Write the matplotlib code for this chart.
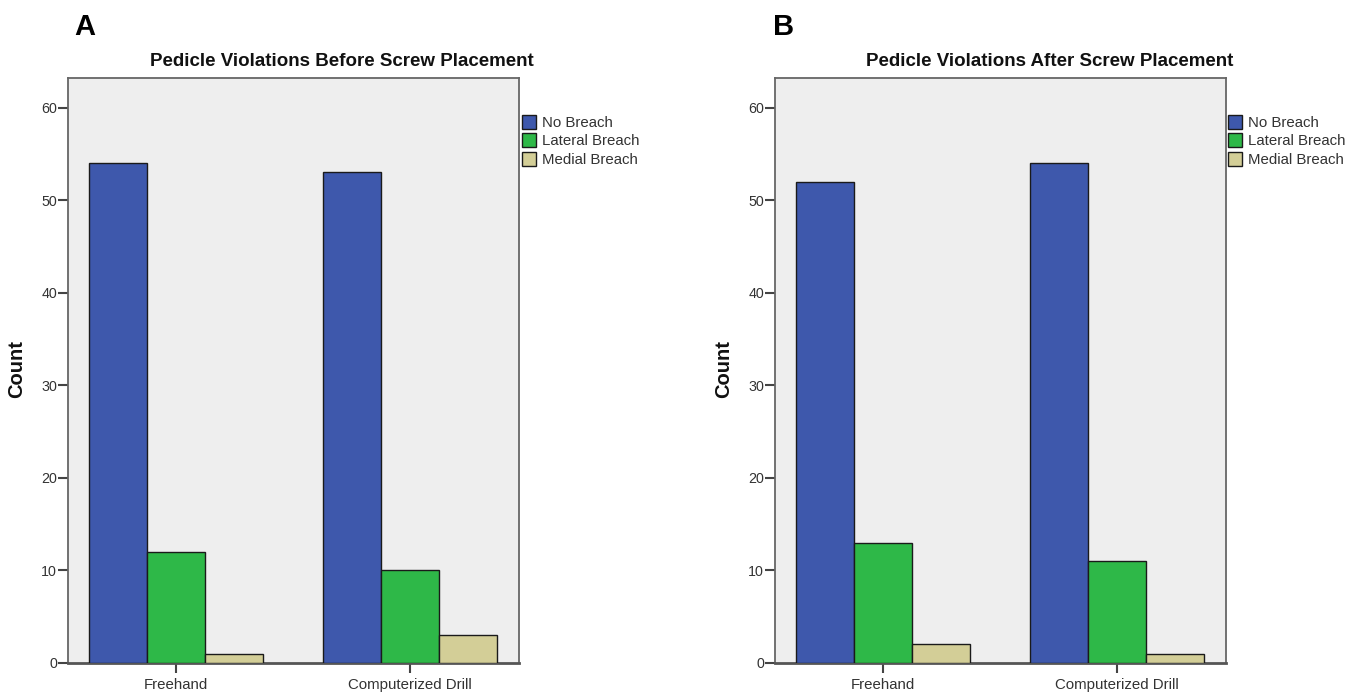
import matplotlib
matplotlib.use("Agg")
import matplotlib.pyplot as plt
import numpy as np

plt.rcParams['font.family'] = ['Liberation Sans', 'DejaVu Sans']

categories = ["Freehand", "Computerized Drill"]
series_names = ["No Breach", "Lateral Breach", "Medial Breach"]
before_values = [[54, 53], [12, 10], [1, 3]]
after_values = [[52, 54], [13, 11], [2, 1]]
titles = ["Pedicle Violations Before Screw Placement", "Pedicle Violations After Screw Placement"]
panel_labels = ["A", "B"]
colors = ["#3E58AC", "#2EB848", "#D3CE97"]
yticks = [0, 10, 20, 30, 40, 50, 60]

W, H = 1359, 694
fig = plt.figure(figsize=(W / 100, H / 100), dpi=100)

panels = [
    dict(left=68, data=before_values, title=titles[0], tx=342, letter=panel_labels[0], lx=74, ylx=17, legx=522),
    dict(left=775, data=after_values, title=titles[1], tx=1050, letter=panel_labels[1], lx=773, ylx=724, legx=1228),
]

ax_w = 451
top, bottom = 78, 663
text_col = "#333333"

for p in panels:
    ax = fig.add_axes([p['left'] / W, 1 - bottom / H, ax_w / W, (bottom - top) / H])
    ax.set_facecolor("#EEEEEE")
    x = np.arange(len(categories))
    bw = 0.248
    handles = []
    for i, (name, vals) in enumerate(zip(series_names, p['data'])):
        b = ax.bar(x + (i - 1) * bw, vals, width=bw, color=colors[i], edgecolor="#1a1a1a",
                   linewidth=1.0, label=name, zorder=3)
        handles.append(b)
    ax.set_xlim(-0.46, 1.465)
    ax.set_ylim(0, 63.2)
    ax.set_yticks(yticks)
    ax.set_xticks(x)
    ax.set_xticklabels(categories, fontsize=10.8, color=text_col)
    ax.tick_params(axis='y', labelsize=10.3, labelcolor=text_col, length=7, width=1.5, color="#444444", pad=1)
    ax.tick_params(axis='x', length=7, width=1.5, color="#444444", pad=4)
    for s in ax.spines.values():
        s.set_color("#666666")
        s.set_linewidth(1.3)
    ax.spines['bottom'].set_color("#555555")
    ax.spines['bottom'].set_linewidth(2.0)
    fig.text(p['ylx'] / W, 1 - 369 / H, "Count", rotation=90, fontsize=14.5, fontweight='bold',
             ha='center', va='center', color="#111111")
    fig.text(p['tx'] / W, 1 - 62 / H, p['title'], fontsize=13.5, fontweight='bold',
             ha='center', va='center', color="#111111")
    fig.text(p['lx'] / W, 1 - 27 / H, p['letter'], fontsize=21, fontweight='bold',
             ha='left', va='center', color="#000000")
    leg = ax.legend(handles=handles, loc='upper left',
                    bbox_to_anchor=(p['legx'] / W, 1 - 115 / H), bbox_transform=fig.transFigure,
                    frameon=False, fontsize=10.8, handlelength=0.95, handleheight=1.05,
                    handletextpad=0.35, labelspacing=0.22, borderpad=0, borderaxespad=0)
    for t in leg.get_texts():
        t.set_color(text_col)

fig.savefig("out.png", dpi=100)
